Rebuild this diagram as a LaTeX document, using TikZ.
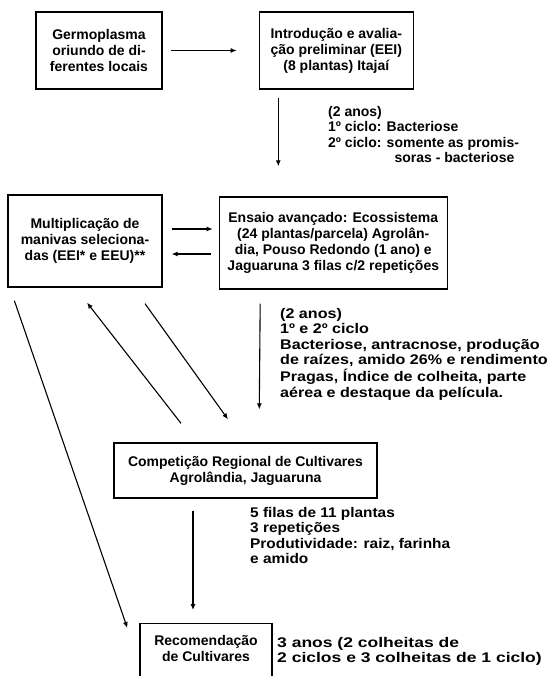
\documentclass[tikz,border=0pt]{standalone}
\usepackage{fontspec}
\setmainfont{Liberation Sans}
\usepackage{graphicx}
\usetikzlibrary{arrows.meta,positioning}

% label text, stretched sideways like the scan
\newcommand{\notelines}[2]{\scalebox{#1}[1]{\begin{tabular}{@{}l@{}}#2\end{tabular}}}

\begin{document}
\begin{tikzpicture}[x=1pt, y=-1pt,
    box/.style={rectangle, draw=black, line width=1.3pt, align=center, inner sep=0pt, font=\bfseries\fontsize{14}{16}\selectfont},
    note/.style={inner sep=0pt, anchor=north west, font=\bfseries\fontsize{14}{15.5}\selectfont},
    arrow/.style={-{Latex[length=6pt, width=5pt]}, line width=1.1pt},
]
    \clip (0,0) rectangle (555,676);
    \node[box, minimum width=126pt, minimum height=77pt] (germ) at (99,50.5) {Germoplasma\\oriundo de di-\\ferentes locais};
    \node[box, minimum width=154pt, minimum height=77pt, right=96pt of germ] (intro) {Introdução e avalia-\\ção preliminar (EEI)\\(8 plantas) Itajaí};
    \node[box, minimum width=154pt, minimum height=92pt] (mult) at (85,241) {Multiplicação de\\manivas seleciona-\\das (EEI* e EEU)**};
    \node[box, minimum width=228pt, minimum height=92pt, right=56pt of mult, yshift=-2pt] (ensaio) {Ensaio avançado: Ecossistema\\(24 plantas/parcela) Agrolân-\\dia, Pouso Redondo (1 ano) e\\Jaguaruna 3 filas c/2 repetições};
    \node[box, minimum width=263pt, minimum height=55pt] (comp) at (245.5,470.5) {Competição Regional de Cultivares\\Agrolândia, Jaguaruna};
    \node[box, minimum width=132pt, minimum height=72pt, anchor=north] (recom) at (206,623) {};
    \node[box, draw=none, anchor=north, below=12pt of recom.north] (recomtxt) {Recomendação\\de Cultivares};

    \node[note] (ciclos) at (328,105) {\notelines{1}{(2 anos)\\1º ciclo: Bacteriose\\2º ciclo: somente as promis-\\\phantom{2º ciclo: s}soras - bacteriose}};
    \node[note] (avalia) at (280,307) {\notelines{1.15}{(2 anos)\\1º e 2º ciclo\\Bacteriose, antracnose, produção\\de raízes, amido 26\% e rendimento\\Pragas, Índice de colheita, parte\\aérea e destaque da película.}};
    \node[note] (filas) at (250,506) {\notelines{1.1}{5 filas de 11 plantas\\3 repetições\\Produtividade: raiz, farinha\\e amido}};
    \node[note] (anos) at (277,636) {\notelines{1.25}{3 anos (2 colheitas de\\2 ciclos e 3 colheitas de 1 ciclo)}};

    \draw[arrow, shorten <=8pt, shorten >=22pt] (germ) -- (intro);
    \draw[arrow, shorten <=8pt, shorten >=30pt] ([xshift=-58pt]intro.south) -- ([xshift=-55pt]ensaio.north);
    \draw[arrow, shorten <=9pt, shorten >=6pt] ([yshift=12pt]mult.east) -- ([yshift=14pt]ensaio.west);
    \draw[arrow, shorten <=8pt, shorten >=9pt] ([yshift=-11pt]ensaio.west) -- ([yshift=-13pt]mult.east);
    \draw[arrow, shorten <=14pt, shorten >=33pt] ([xshift=-73pt]ensaio.south) -- ([xshift=13.5pt]comp.north);
    \draw[arrow] ([shift={(7,13)}]mult.south west) -- ([shift={(-12,5)}]recom.north west);
    \draw[arrow] ([shift={(-64.5,-19)}]comp.north) -- ([shift={(2,15)}]mult.south);
    \draw[arrow] ([shift={(60,16)}]mult.south) -- ([shift={(-17.5,-23)}]comp.north);
    \draw[arrow, shorten <=12pt, shorten >=13pt] ([xshift=-52.5pt]comp.south) -- ([xshift=-13pt]recom.north);
\end{tikzpicture}
\end{document}
